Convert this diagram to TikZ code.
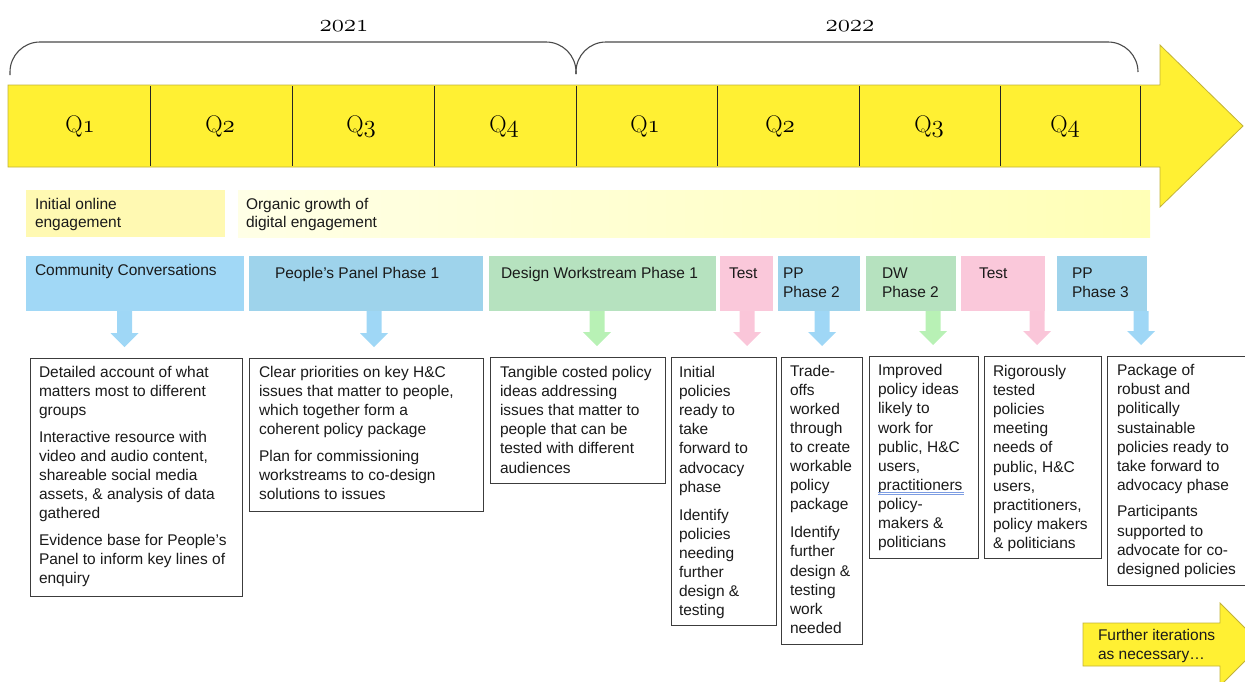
\documentclass[tikz,border=0pt]{standalone}
\usepackage{fontspec}
\usetikzlibrary{calc}
\newfontfamily\arialish{Liberation Sans}

% old-style figures taken from the Latin Modern math italic font
\newcommand\osnum[1]{{\fontencoding{OML}\fontfamily{lmm}\fontseries{m}\fontshape{it}\selectfont #1}}
% top-aligned text block whose baseline is that of its first line
\newcommand\outtext[1]{\parbox[t]{300pt}{\raggedright #1}}
% filled block arrow from the bottom of one box towards the top of another, along a column
\newcommand\flowarrow[4]{%
  \fill[#1] ($(#2.south -| #4)+(-7.5,0)$) -- ($(#3.north -| #4)+(-7.5,-25)$) -- ++(-6.5,0)
    -- ($(#3.north -| #4)+(0,-11)$) -- ($(#3.north -| #4)+(14,-25)$) -- ++(-6.5,0)
    -- ($(#2.south -| #4)+(7.5,0)$) -- cycle;}

\definecolor{baryellow}{HTML}{FFF033}
\definecolor{baredge}{HTML}{C2B238}
\definecolor{initfill}{HTML}{FFF9B2}
\definecolor{orgleft}{HTML}{FFFFE6}
\definecolor{orgright}{HTML}{FFFFB6}
\definecolor{ccblue}{HTML}{A1D8F6}
\definecolor{ppblue}{HTML}{9ED3EB}
\definecolor{dwgreen}{HTML}{B6E2BF}
\definecolor{testpink}{HTML}{FAC8DA}
\definecolor{arrblue}{HTML}{9FD7F6}
\definecolor{arrgreen}{HTML}{B8F1B5}
\definecolor{arrpink}{HTML}{FAC6D9}
\definecolor{boxline}{HTML}{3C3C3C}
\definecolor{inkc}{HTML}{1A1A1A}
\definecolor{bracketc}{HTML}{4A4A4A}
\definecolor{squiggle}{HTML}{7D9DE2}

\begin{document}
\begin{tikzpicture}[x=1pt,y=-1pt,
  sans/.style={font=\arialish\fontsize{15.5}{19.1}\selectfont, text=inkc},
  lbl/.style={sans, anchor=base west, inner sep=0pt, outer sep=0pt},
  area/.style={anchor=north west, inner sep=0pt, outer sep=0pt},
  phasebox/.style={area, minimum height=55pt},
  outbox/.style={area, draw=boxline, line width=1pt, fill=white},
  qlab/.style={anchor=base, inner sep=0pt, font=\fontsize{24}{24}\selectfont, text=black},
  yearlab/.style={anchor=base, inner sep=0pt, font=\fontsize{24}{24}\selectfont, text=black},
  bracket/.style={draw=bracketc, line width=1.1pt, rounded corners=30pt},
  divider/.style={draw=black!85, line width=0.9pt}]

\useasboundingbox (0,0) rectangle (1245,681);
\clip (0,0) rectangle (1245,681);

% ---- years and their brackets ----
\node[yearlab] (y2021) at (344,31) {\osnum{2021}};
\node[yearlab] (y2022) at (850,31) {\osnum{2022}};
\draw[bracket] (10,75) -- (10,42) -- (576,42) -- (576,74);
\draw[bracket] (576,74) -- (576,42) -- (1138,42) -- (1138,72);

% ---- timeline arrow with quarters ----
\fill[baryellow, draw=baredge, line width=0.8pt]
  (8,85) -- (1160,85) -- (1160,45) -- (1243,126) -- (1160,207) -- (1160,167) -- (8,167) -- cycle;
\foreach \xd in {150,292,434,576,717,859,1000,1140}
  \draw[divider] (\xd,86) -- (\xd,166);
\node[qlab] (q1) at (80,132)   {Q\osnum{1}};
\node[qlab] (q2) at (220,132)  {Q\osnum{2}};
\node[qlab] (q3) at (361,132)  {Q\osnum{3}};
\node[qlab] (q4) at (504,132)  {Q\osnum{4}};
\node[qlab] (q5) at (645,132)  {Q\osnum{1}};
\node[qlab] (q6) at (780,132)  {Q\osnum{2}};
\node[qlab] (q7) at (929,132)  {Q\osnum{3}};
\node[qlab] (q8) at (1065,132) {Q\osnum{4}};

% ---- engagement bands ----
\node[area, fill=initfill, minimum width=199pt, minimum height=47pt] (init) at (26,190) {};
\node[lbl] (init-t) at (35,209) {\outtext{\fontsize{15.5}{18}\selectfont Initial online\\ engagement}};
\node[area, left color=orgleft, right color=orgright, minimum width=912pt, minimum height=47pt] (org) at (238,190) {};
\node[lbl] (org-t) at (246,209) {\outtext{\fontsize{15.5}{18}\selectfont Organic growth of\\ digital engagement}};

% ---- phases ----
\node[phasebox, fill=ccblue,   minimum width=218pt] (cc)  at (26,256)   {};
\node[phasebox, fill=ppblue,   minimum width=234pt] (pp1) at (249,256)  {};
\node[phasebox, fill=dwgreen,  minimum width=227pt] (dw1) at (489,256)  {};
\node[phasebox, fill=testpink, minimum width=53pt]  (t1)  at (720,256)  {};
\node[phasebox, fill=ppblue,   minimum width=82pt]  (pp2) at (778,256)  {};
\node[phasebox, fill=dwgreen,  minimum width=90pt]  (dw2) at (866,256)  {};
\node[phasebox, fill=testpink, minimum width=84pt]  (t2)  at (961,256)  {};
\node[phasebox, fill=ppblue,   minimum width=90pt]  (pp3) at (1057,256) {};

\node[lbl] (cc-t)  at (35,275)    {Community Conversations};
\node[lbl] (pp1-t) at (275,278.5) {People’s Panel Phase 1};
\node[lbl] (dw1-t) at (501,278.5) {Design Workstream Phase 1};
\node[lbl] (t1-t)  at (729,278.5) {Test};
\node[lbl] (pp2-t) at (783,278.5) {\outtext{PP\\ Phase 2}};
\node[lbl] (dw2-t) at (882,278.5) {\outtext{DW\\ Phase 2}};
\node[lbl] (t2-t)  at (979,278.5) {Test};
\node[lbl] (pp3-t) at (1072,278.5){\outtext{PP\\ Phase 3}};

% ---- outcomes ----
\node[outbox, minimum width=212pt, minimum height=238pt] (oa) at (30,358)   {};
\node[outbox, minimum width=234pt, minimum height=153pt] (ob) at (249,358)  {};
\node[outbox, minimum width=175pt, minimum height=126pt] (oc) at (490,357)  {};
\node[outbox, minimum width=105pt, minimum height=268pt] (od) at (671,357)  {};
\node[outbox, minimum width=81pt,  minimum height=287pt] (oe) at (781,357)  {};
\node[outbox, minimum width=109pt, minimum height=202pt] (of) at (869,356)  {};
\node[outbox, minimum width=117pt, minimum height=202pt] (og) at (984,356)  {};
\node[outbox, minimum width=142pt, minimum height=229pt] (oh) at (1107,356) {};

\node[lbl] (oa-t) at (39,377.5) {\outtext{Detailed account of what\\ matters most to different\\ groups\\[7.5pt]
  Interactive resource with\\ video and audio content,\\ shareable social media\\ assets, \& analysis of data\\ gathered\\[7.5pt]
  Evidence base for People’s\\ Panel to inform key lines of\\ enquiry}};
\node[lbl] (ob-t) at (259,377.5) {\outtext{Clear priorities on key H\&C\\ issues that matter to people,\\ which together form a\\ coherent policy package\\[7.5pt]
  Plan for commissioning\\ workstreams to co-design\\ solutions to issues}};
\node[lbl] (oc-t) at (500,377.5) {\outtext{Tangible costed policy\\ ideas addressing\\ issues that matter to\\ people that can be\\ tested with different\\ audiences}};
\node[lbl] (od-t) at (679,377.5) {\outtext{Initial\\ policies\\ ready to\\ take\\ forward to\\ advocacy\\ phase\\[9pt]
  Identify\\ policies\\ needing\\ further\\ design \&\\ testing}};
\node[lbl] (oe-t) at (790,376) {\outtext{Trade-\\ offs\\ worked\\ through\\ to create\\ workable\\ policy\\ package\\[9pt]
  Identify\\ further\\ design \&\\ testing\\ work\\ needed}};
\node[lbl] (of-t) at (878,375.7) {\outtext{Improved\\ policy ideas\\ likely to\\ work for\\ public, H\&C\\ users,\\ practitioners\\ policy-\\ makers \&\\ politicians}};
\node[lbl] (og-t) at (993,376.5) {\outtext{Rigorously\\ tested\\ policies\\ meeting\\ needs of\\ public, H\&C\\ users,\\ practitioners,\\ policy makers\\ \& politicians}};
\node[lbl] (oh-t) at (1117,375.7) {\outtext{Package of\\ robust and\\ politically\\ sustainable\\ policies ready to\\ take forward to\\ advocacy phase\\[7.5pt]
  Participants\\ supported to\\ advocate for co-\\ designed policies}};

% proofing underline beneath "practitioners"
\draw[squiggle, line width=0.7pt] (878,492.3) -- (964,492.3);
\draw[squiggle, line width=0.7pt] (878,494.8) -- (964,494.8);

% ---- block arrows from phases to outcomes ----
\coordinate (colA) at (124.5,0);
\coordinate (colB) at (374,0);
\coordinate (colC) at (597,0);
\coordinate (colD) at (747,0);
\coordinate (colE) at (822,0);
\coordinate (colF) at (933,0);
\coordinate (colG) at (1037,0);
\coordinate (colH) at (1141,0);
\flowarrow{arrblue}{cc}{oa}{colA}
\flowarrow{arrblue}{pp1}{ob}{colB}
\flowarrow{arrgreen}{dw1}{oc}{colC}
\flowarrow{arrpink}{t1}{od}{colD}
\flowarrow{arrblue}{pp2}{oe}{colE}
\flowarrow{arrgreen}{dw2}{of}{colF}
\flowarrow{arrpink}{t2}{og}{colG}
\flowarrow{arrblue}{pp3}{oh}{colH}

% ---- closing arrow ----
\fill[baryellow, draw=baredge, line width=0.8pt]
  (1083,623) -- (1220,623) -- (1220,603) -- (1261.5,644.5) -- (1220,686) -- (1220,666) -- (1083,666) -- cycle;
\node[lbl] (more) at (1098,640.5) {\outtext{\fontsize{15.5}{18.5}\selectfont Further iterations\\ as necessary…}};
\end{tikzpicture}
\end{document}
